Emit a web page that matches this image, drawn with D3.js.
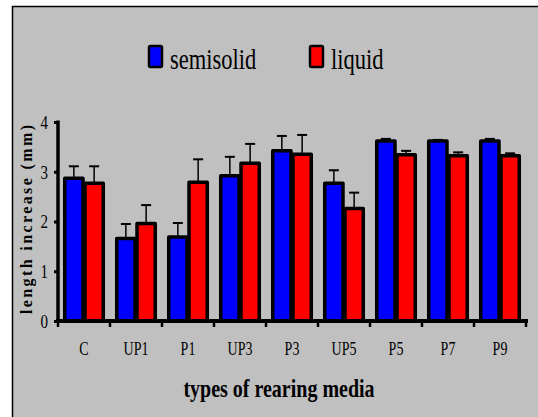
<!DOCTYPE html>
<html><head><meta charset="utf-8">
<script src="https://cdn.jsdelivr.net/npm/d3@7"></script>
<style>html,body{margin:0;padding:0;background:#fff;}svg{display:block;}</style>
</head><body>
<script>
const categories = ["C","UP1","P1","UP3","P3","UP5","P5","P7","P9"];
const seriesNames = ["semisolid","liquid"];
const semisolid = [2.87,1.66,1.69,2.92,3.42,2.77,3.62,3.62,3.62];
const liquid    = [2.77,1.96,2.79,3.17,3.35,2.26,3.34,3.32,3.32];
const semisolidErr = [0.24,0.29,0.28,0.38,0.30,0.26,0.04,0.02,0.04];
const liquidErr    = [0.34,0.37,0.46,0.39,0.39,0.32,0.08,0.07,0.05];
const yTicks = [0,1,2,3,4];
const colors = ["#0000ff","#ff0000"];

const W = 538, H = 417;
const svg = d3.select("body").append("svg").attr("width",W).attr("height",H);
svg.append("rect").attr("x",0).attr("y",0).attr("width",W).attr("height",H).attr("fill","#fff");
svg.append("rect").attr("x",12.5).attr("y",6.5).attr("width",W+20).attr("height",H+20)
  .attr("fill","#c0c0c0").attr("stroke","#000").attr("stroke-width",1.5);

const y = d3.scaleLinear().domain([0,4]).range([321,122]);
const x = d3.scaleBand().domain(categories).range([58,526]).paddingInner(0.22).paddingOuter(0.11);
const xs = d3.scaleBand().domain(seriesNames).range([0,x.bandwidth()]);

const data = categories.map((c,i)=>({c, vals:[
  {s:"semisolid", v:semisolid[i], e:semisolidErr[i], col:colors[0]},
  {s:"liquid", v:liquid[i], e:liquidErr[i], col:colors[1]}]}));

const g = svg.append("g");
const groups = g.selectAll("g.cat").data(data).join("g").attr("transform",d=>`translate(${x(d.c)},0)`);
groups.selectAll("line.err").data(d=>d.vals).join("line")
  .attr("x1",d=>xs(d.s)+xs.bandwidth()/2).attr("x2",d=>xs(d.s)+xs.bandwidth()/2)
  .attr("y1",d=>y(d.v)).attr("y2",d=>y(d.v+d.e)).attr("stroke","#000").attr("stroke-width",1.5);
groups.selectAll("line.cap").data(d=>d.vals).join("line")
  .attr("x1",d=>xs(d.s)+xs.bandwidth()/2-5).attr("x2",d=>xs(d.s)+xs.bandwidth()/2+5)
  .attr("y1",d=>y(d.v+d.e)).attr("y2",d=>y(d.v+d.e)).attr("stroke","#000").attr("stroke-width",2);
groups.selectAll("rect").data(d=>d.vals).join("rect")
  .attr("x",d=>xs(d.s)+1).attr("width",xs.bandwidth()-2)
  .attr("y",d=>y(d.v)).attr("height",d=>y(0)-y(d.v))
  .attr("fill",d=>d.col).attr("stroke","#000").attr("stroke-width",3.5).attr("stroke-linejoin","round");

// y axis
const yAxis = d3.axisLeft(y).tickValues(yTicks).tickSize(4).tickFormat(d3.format("d"));
const ya = svg.append("g").attr("transform","translate(58,0)").call(yAxis);
ya.select(".domain").remove();
ya.selectAll(".tick line").attr("stroke","#000").attr("stroke-width",3);
ya.selectAll(".tick text").remove();
svg.append("line").attr("x1",58).attr("x2",58).attr("y1",120.5).attr("y2",323).attr("stroke","#000").attr("stroke-width",3.5);
ya.selectAll(".tick").append("text")
  .attr("transform","translate(-10,6.3) scale(1,1.25)")
  .attr("text-anchor","end").attr("font-family","Liberation Serif").attr("font-size",15).attr("fill","#000")
  .text(d=>d);

// x axis
const xAxis = d3.axisBottom(x).tickSize(0).tickFormat("");
svg.append("g").attr("transform","translate(0,321)").call(xAxis).select(".domain").remove();
svg.append("line").attr("x1",56).attr("x2",528).attr("y1",321).attr("y2",321).attr("stroke","#000").attr("stroke-width",4);
const bounds = categories.map(c=>x(c)-x.step()*x.paddingInner()/2);
bounds.push(x.range()[1]);
svg.selectAll("line.xt").data(bounds).join("line").attr("class","xt")
  .attr("x1",d=>d).attr("x2",d=>d).attr("y1",321).attr("y2",327).attr("stroke","#000").attr("stroke-width",2.5);
svg.selectAll("text.xl").data(categories).join("text").attr("class","xl")
  .attr("transform",d=>`translate(${x(d)+x.bandwidth()/2},355) scale(1,1.33)`)
  .attr("text-anchor","middle").attr("font-family","Liberation Serif").attr("font-size",14).attr("fill","#000")
  .text(d=>d);

// titles
svg.append("text").attr("transform","translate(279,397) scale(1,1.3)")
  .attr("text-anchor","middle").attr("font-family","Liberation Serif").attr("font-weight","bold")
  .attr("font-size",20).attr("fill","#000").text("types of rearing media");
svg.append("text").attr("transform","translate(32,219.5) rotate(-90)")
  .attr("text-anchor","middle").attr("font-family","Liberation Serif").attr("font-weight","bold")
  .attr("font-size",16).attr("fill","#000")
  .attr("textLength",189).attr("lengthAdjust","spacing").text("length increase (mm)");

// legend
const legX = [148,309];
const leg = svg.selectAll("g.leg").data(seriesNames).join("g").attr("class","leg")
  .attr("transform",(d,i)=>`translate(${legX[i]},0)`);
leg.append("rect").attr("x",1).attr("y",46).attr("width",13).attr("height",21).attr("rx",1.5)
  .attr("fill",(d,i)=>colors[i]).attr("stroke","#000").attr("stroke-width",2.5);
leg.append("text").attr("transform","translate(22,69) scale(1,1.3)")
  .attr("font-family","Liberation Serif").attr("font-size",22.5).attr("fill","#000").text(d=>d);
</script>
</body></html>
